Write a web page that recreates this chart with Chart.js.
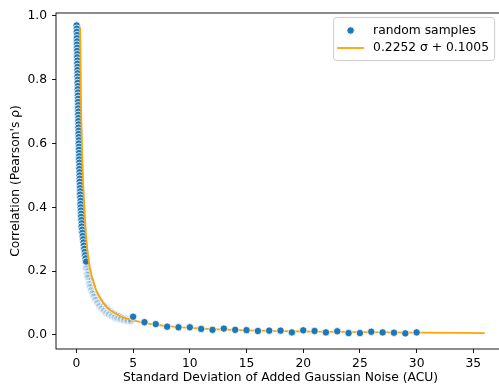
<!DOCTYPE html>
<html>
<head>
<meta charset="utf-8">
<script src="https://cdn.jsdelivr.net/npm/chart.js@4/dist/chart.umd.min.js"></script>
<style>
html,body{margin:0;padding:0;background:#fff;overflow:hidden;width:499px;height:385px;}
#wrap{position:absolute;left:0;top:0;width:510px;height:385px;}
</style>
</head>
<body>
<div id="wrap"><canvas id="c" width="510" height="385"></canvas></div>
<script>
// ---- data ----
const columnSigma = [0.02,0.04,0.03,0.05,0.04,0.06,0.05,0.07,0.06,0.08,0.07,0.09,0.08,0.10,0.09,0.11,0.10,0.12,0.11,0.13,0.12,0.14,0.13,0.15,0.14,0.16,0.15,0.17,0.16,0.18,0.17,0.19,0.18,0.20,0.19,0.21,0.22,0.21,0.23,0.22,0.24,0.25,0.24,0.26,0.27,0.26,0.28,0.29,0.30,0.29,0.31,0.32,0.34,0.33,0.35,0.37,0.36,0.38,0.40,0.42,0.41,0.44,0.47,0.46,0.50,0.53,0.56,0.60,0.63,0.66,0.70,0.74,0.78,0.82,0.86];
const columnRho   = [0.97,0.96,0.95,0.94,0.93,0.92,0.91,0.90,0.89,0.88,0.87,0.86,0.85,0.84,0.83,0.82,0.81,0.80,0.79,0.78,0.77,0.76,0.75,0.74,0.73,0.72,0.71,0.70,0.69,0.68,0.67,0.66,0.65,0.64,0.63,0.62,0.61,0.60,0.59,0.58,0.57,0.56,0.55,0.54,0.53,0.52,0.51,0.50,0.49,0.48,0.47,0.46,0.45,0.44,0.43,0.42,0.41,0.40,0.39,0.38,0.37,0.36,0.35,0.34,0.33,0.32,0.31,0.30,0.29,0.28,0.27,0.26,0.25,0.24,0.23];
const tailSigma = [0.45,0.48,0.50,0.52,0.55,0.58,0.60,0.63,0.66,0.70,0.73,0.76,0.80,0.84,0.88,0.92,0.96,1.00,1.05,1.10,1.15,1.20,1.26,1.32,1.38,1.44,1.50,1.57,1.64,1.72,1.80,1.88,1.96,2.05,2.15,2.25,2.35,2.45,2.55,2.65,2.75,2.85,2.95,3.05,3.15,3.25,3.35,3.45,3.55,3.65,3.75,3.85,3.95,4.05,4.15,4.25,4.35,4.45,4.55,4.65,4.75,4.85,
                   0.62,0.68,0.75,0.82,0.90,0.98,1.08,1.18,1.28,1.40,1.52,1.66,1.82,2.00,2.20,2.40,2.62,2.85,3.10,3.35,3.60,3.90,4.20,4.50,4.80];
const tailRho   = [0.40,0.36,0.38,0.33,0.35,0.31,0.33,0.29,0.30,0.27,0.28,0.25,0.26,0.23,0.24,0.21,0.22,0.20,0.19,0.20,0.17,0.18,0.16,0.17,0.15,0.155,0.14,0.135,0.13,0.12,0.125,0.11,0.115,0.10,0.105,0.095,0.09,0.092,0.083,0.086,0.078,0.08,0.073,0.075,0.068,0.07,0.064,0.066,0.061,0.063,0.058,0.06,0.055,0.057,0.052,0.054,0.05,0.052,0.048,0.05,0.047,0.049,
                   0.27,0.25,0.23,0.21,0.19,0.18,0.16,0.15,0.14,0.13,0.12,0.11,0.10,0.09,0.082,0.075,0.068,0.064,0.058,0.054,0.051,0.048,0.045,0.043,0.042];
const gridSigma = [5,6,7,8,9,10,11,12,13,14,15,16,17,18,19,20,21,22,23,24,25,26,27,28,29,30];
const gridRho   = [0.057,0.040,0.034,0.026,0.024,0.024,0.019,0.016,0.020,0.016,0.015,0.0125,0.0135,0.0135,0.008,0.0145,0.0125,0.008,0.0115,0.006,0.006,0.010,0.008,0.007,0.005,0.008];
const fitSigma = [0.33,0.35,0.37,0.40,0.45,0.52,0.58,0.66,0.74,0.83,0.92,1.03,1.17,1.30,1.46,1.70,1.90,2.20,2.63,3.00,3.50,4.10,5.00,6.00,7.00,8.00,10,12,15,18,21,25,30,36];
const fitRho   = [0.964,0.90,0.82,0.73,0.64,0.55,0.485,0.43,0.375,0.32,0.28,0.245,0.214,0.19,0.172,0.145,0.128,0.11,0.089,0.077,0.066,0.055,0.046,0.038,0.032,0.028,0.022,0.018,0.0145,0.012,0.0105,0.0088,0.0072,0.006];
const xTicks = [0,5,10,15,20,25,30,35];
const yTicks = [0.0,0.2,0.4,0.6,0.8,1.0];
const seriesLabels = ['random samples','0.2252 σ + 0.1005'];
const xTitle = 'Standard Deviation of Added Gaussian Noise (ACU)';
const yTitle = "Correlation (Pearson's ρ)";

const BLUE = '#1f77b4', ORANGE = '#ffa500';
const FS = 12.3;
const FONT = {family:'"DejaVu Sans", sans-serif', size:FS};
const pts = (xs, ys) => xs.map((x,i)=>({x, y: ys[i]}));

const framePlugin = {
  id:'frame',
  afterDraw(chart){
    const {ctx, chartArea:a} = chart;
    ctx.save();
    ctx.strokeStyle = '#000'; ctx.lineWidth = 0.9;
    ctx.strokeRect(a.left, a.top, a.right-a.left, a.bottom-a.top);
    // legend
    const bx = a.right - 172, by = a.top + 4, bw = 161, bh = 43;
    ctx.beginPath();
    ctx.roundRect(bx+0.5, by+0.5, bw, bh, 3);
    ctx.fillStyle = 'rgba(255,255,255,0.8)'; ctx.fill();
    ctx.strokeStyle = '#cccccc'; ctx.lineWidth = 1; ctx.stroke();
    ctx.font = FS + 'px "DejaVu Sans", sans-serif';
    ctx.textBaseline = 'middle'; ctx.textAlign = 'left';
    ctx.beginPath(); ctx.arc(bx+17.5, by+13.5, 3.7, 0, Math.PI*2);
    ctx.fillStyle = BLUE; ctx.fill();
    ctx.strokeStyle = '#fff'; ctx.lineWidth = 0.8; ctx.stroke();
    ctx.fillStyle = '#000';
    ctx.fillText(seriesLabels[0], bx+40, by+13.5);
    ctx.beginPath(); ctx.moveTo(bx+4, by+31); ctx.lineTo(bx+31, by+31);
    ctx.strokeStyle = ORANGE; ctx.lineWidth = 1.8; ctx.stroke();
    ctx.fillText(seriesLabels[1], bx+40, by+31);
    ctx.restore();
  }
};

new Chart(document.getElementById('c'), {
  type:'scatter',
  data:{datasets:[
    {label:seriesLabels[0], data:pts(gridSigma,gridRho), order:0,
     pointRadius:3.7, pointBackgroundColor:BLUE, pointBorderColor:'#fff', pointBorderWidth:0.8},
    {label:seriesLabels[1], type:'line', data:pts(fitSigma,fitRho), order:1,
     borderColor:ORANGE, borderWidth:1.8, pointRadius:0, fill:false, cubicInterpolationMode:'monotone'},
    {label:'dense', data:pts(columnSigma,columnRho), order:2,
     pointRadius:3.7, pointBackgroundColor:BLUE, pointBorderColor:'#fff', pointBorderWidth:0.8},
    {label:'tail', data:pts(tailSigma,tailRho), order:3,
     pointRadius:3.7, pointBackgroundColor:'rgba(31,119,180,0.18)', pointBorderColor:'rgba(255,255,255,0.85)', pointBorderWidth:0.9}
  ]},
  options:{
    responsive:false, animation:false, devicePixelRatio:1,
    layout:{padding:{top:13,right:2,left:0,bottom:0}},
    plugins:{legend:{display:false}, tooltip:{enabled:false}},
    scales:{
      x:{type:'linear', min:-1.8, max:37.8,
         afterFit(s){s.height=36;},
         afterBuildTicks(s){s.ticks = xTicks.map(v=>({value:v}));},
         ticks:{font:FONT, color:'#000', padding:3, maxRotation:0, callback:v=>String(v)},
         grid:{display:true, drawOnChartArea:false, drawTicks:true, tickLength:4, color:'#000', lineWidth:0.9},
         border:{display:false},
         title:{display:true, text:xTitle, font:FONT, color:'#000', padding:{top:0,bottom:0}}},
      y:{type:'linear', min:-0.044, max:1.009,
         afterFit(s){s.width=56;},
         afterBuildTicks(s){s.ticks = yTicks.map(v=>({value:v}));},
         ticks:{font:FONT, color:'#000', padding:5, callback:v=>v.toFixed(1)},
         grid:{display:true, drawOnChartArea:false, drawTicks:true, tickLength:4, color:'#000', lineWidth:0.9},
         border:{display:false},
         title:{display:true, text:yTitle, font:FONT, color:'#000', padding:{top:8,bottom:0}}}
    }
  },
  plugins:[framePlugin]
});
</script>
</body>
</html>
